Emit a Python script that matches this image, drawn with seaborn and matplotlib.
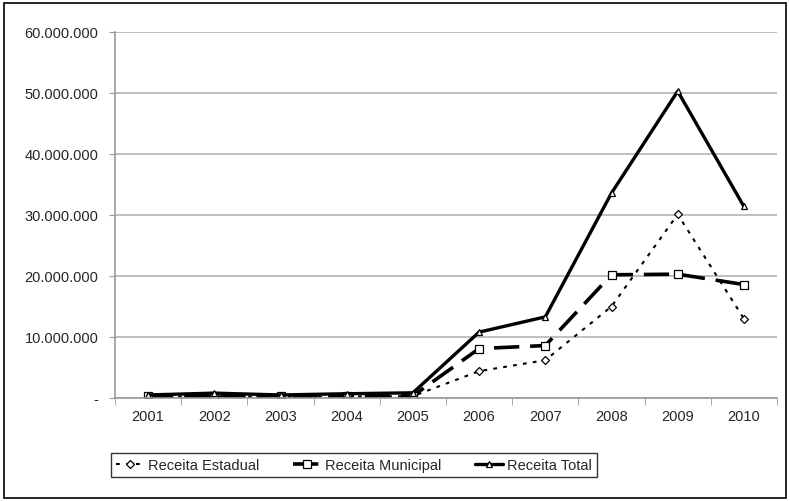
import matplotlib
matplotlib.use("Agg")
import matplotlib.pyplot as plt
from matplotlib.patches import Rectangle
from matplotlib.ticker import FuncFormatter, FixedLocator
import seaborn as sns
import pandas as pd

years = ["2001", "2002", "2003", "2004", "2005", "2006", "2007", "2008", "2009", "2010"]
receita_estadual = [200000, 250000, 200000, 250000, 300000, 4400000, 6200000, 15000000, 30100000, 13000000]
receita_municipal = [250000, 350000, 250000, 300000, 350000, 8100000, 8600000, 20200000, 20300000, 18600000]
receita_total = [500000, 800000, 500000, 700000, 850000, 10800000, 13300000, 33600000, 50300000, 31400000]
series_names = ["Receita Estadual", "Receita Municipal", "Receita Total"]

sns.set_style("white")
plt.rcParams["font.family"] = ["Liberation Sans", "DejaVu Sans"]

df = pd.DataFrame({
    "ano": list(range(len(years))) * 3,
    "valor": receita_estadual + receita_municipal + receita_total,
    "serie": sum([[n] * len(years) for n in series_names], []),
})

fig = plt.figure(figsize=(7.9, 5.02), dpi=100)
ax = fig.add_axes([115 / 790, 1 - 399 / 502, (777 - 115) / 790, (399 - 33) / 502])

styles = {
    "Receita Estadual": dict(ls=(0, (1.8, 3)), lw=1.5, marker="D", ms=4.2),
    "Receita Municipal": dict(ls=(0, (7, 3)), lw=2.6, marker="s", ms=5.5),
    "Receita Total": dict(ls="-", lw=2.4, marker="^", ms=5),
}
for name in series_names:
    st = styles[name]
    sns.lineplot(data=df[df["serie"] == name], x="ano", y="valor", ax=ax,
                 color="black", linestyle=st["ls"], linewidth=st["lw"],
                 marker=st["marker"], markersize=st["ms"], markerfacecolor="white",
                 markeredgecolor="black", markeredgewidth=0.9, label=name)

ax.set_xlim(-0.5, len(years) - 0.5)
ax.set_ylim(0, 60000000)
ax.set_yticks(range(0, 60000001, 10000000))
ax.yaxis.set_major_formatter(FuncFormatter(
    lambda v, p: "-" if v == 0 else f"{int(v):,}".replace(",", ".")))
ax.set_xticks(range(len(years)))
ax.set_xticklabels(years)
ax.xaxis.set_minor_locator(FixedLocator([i - 0.5 for i in range(len(years) + 1)]))
ax.tick_params(axis="x", which="major", length=0, pad=8, labelsize=10.5)
ax.tick_params(axis="x", which="minor", length=5, color="#999999", direction="out", bottom=True)
ax.tick_params(axis="y", length=4, color="#999999", direction="out", left=True, pad=8, labelsize=10.5)
ax.grid(axis="y", color="#b4b4b4", linewidth=1.2)
ax.set_axisbelow(True)
ax.set_xlabel("")
ax.set_ylabel("")
for side in ["top", "right"]:
    ax.spines[side].set_visible(False)
for side in ["left", "bottom"]:
    ax.spines[side].set_color("#999999")
    ax.spines[side].set_linewidth(1.2)

leg = ax.legend(loc="center", bbox_to_anchor=(354 / 790, 1 - 466 / 502),
                bbox_transform=fig.transFigure, ncol=3, frameon=True, fancybox=False,
                edgecolor="black", fontsize=10.5, handlelength=1.9, columnspacing=2.3,
                handletextpad=0.3, borderpad=0.35, borderaxespad=0)
leg.get_frame().set_linewidth(1.0)

fig.patches.append(Rectangle((4 / 790, 3 / 502), 782 / 790, 495 / 502,
                             transform=fig.transFigure, fill=False,
                             edgecolor="black", linewidth=1.2))

fig.savefig("out.png", dpi=100)
